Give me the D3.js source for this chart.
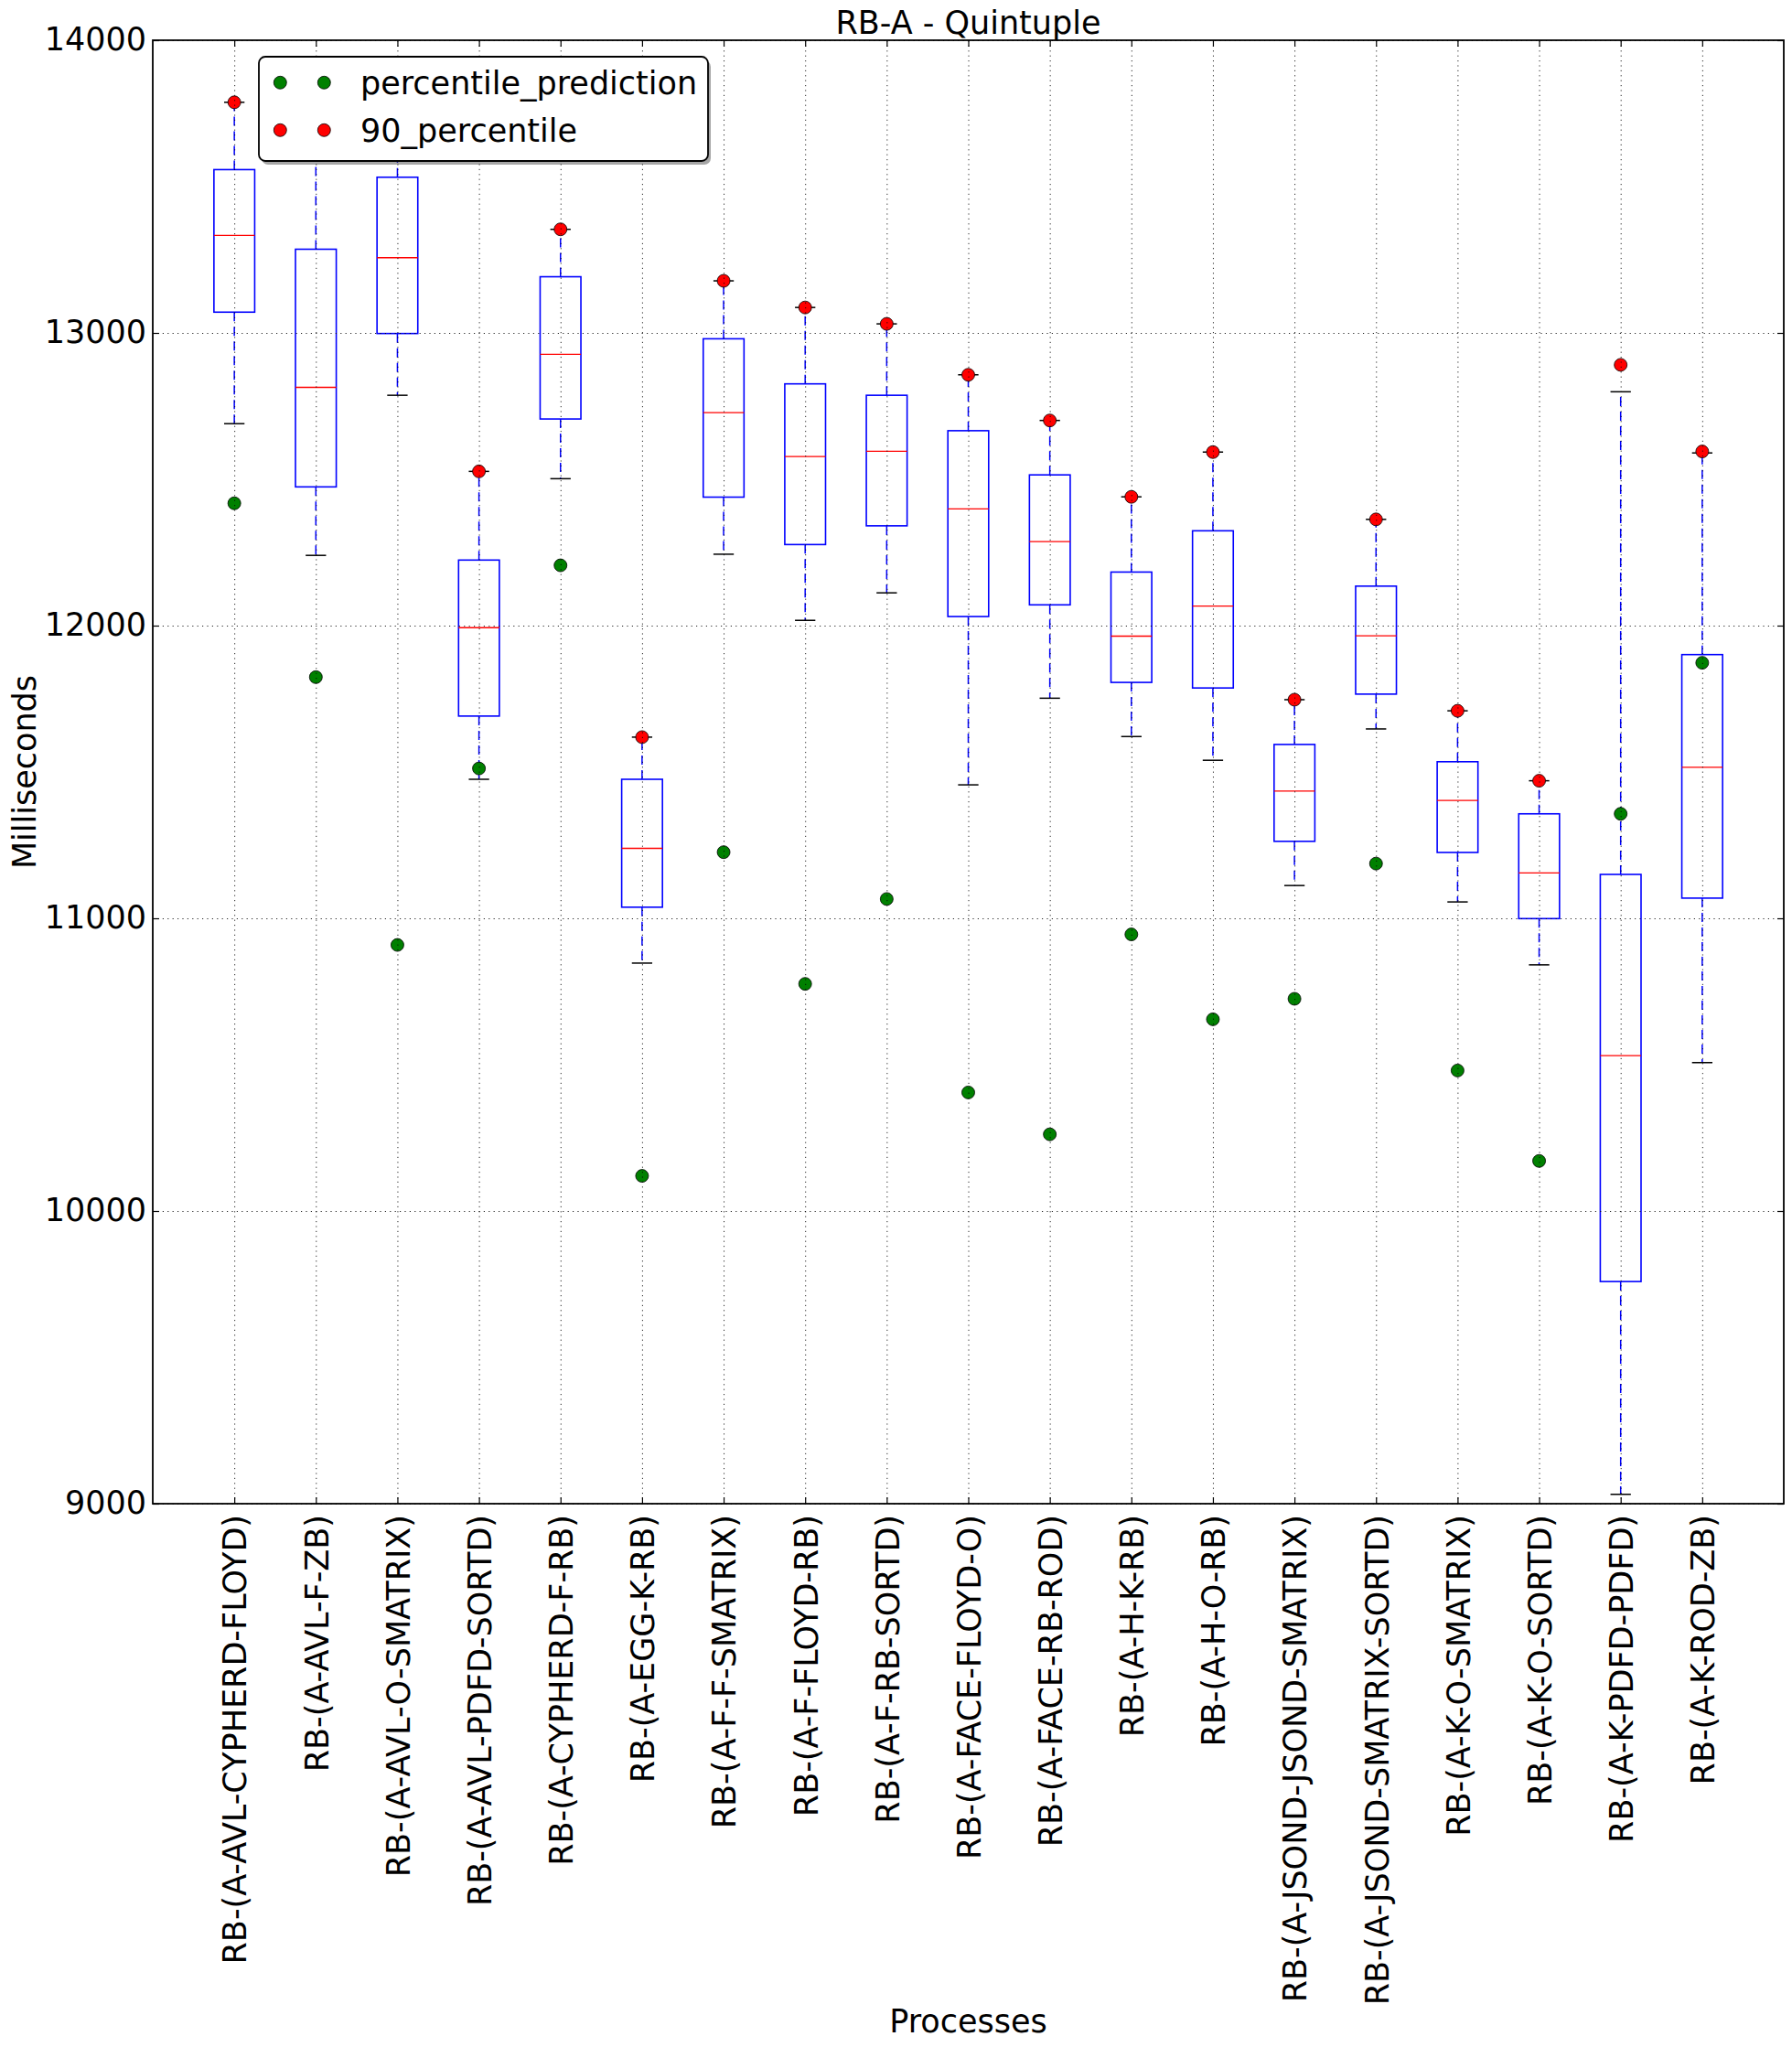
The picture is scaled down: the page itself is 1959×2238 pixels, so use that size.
<!DOCTYPE html>
<html>
<head>
<meta charset="utf-8">
<script src="https://cdn.jsdelivr.net/npm/d3@7/dist/d3.min.js"></script>
<style>
  html, body { margin: 0; padding: 0; background: #fff; }
  svg { display: block; }
  text { font-family: "DejaVu Sans", sans-serif; fill: #000; }
</style>
</head>
<body>
<script>
const categories = [
  "RB-(A-AVL-CYPHERD-FLOYD)", "RB-(A-AVL-F-ZB)", "RB-(A-AVL-O-SMATRIX)",
  "RB-(A-AVL-PDFD-SORTD)", "RB-(A-CYPHERD-F-RB)", "RB-(A-EGG-K-RB)",
  "RB-(A-F-F-SMATRIX)", "RB-(A-F-FLOYD-RB)", "RB-(A-F-RB-SORTD)",
  "RB-(A-FACE-FLOYD-O)", "RB-(A-FACE-RB-ROD)", "RB-(A-H-K-RB)",
  "RB-(A-H-O-RB)", "RB-(A-JSOND-JSOND-SMATRIX)", "RB-(A-JSOND-SMATRIX-SORTD)",
  "RB-(A-K-O-SMATRIX)", "RB-(A-K-O-SORTD)", "RB-(A-K-PDFD-PDFD)", "RB-(A-K-ROD-ZB)"
];
const whiskerLow  = [12690, 12240, 12787, 11475, 12502, 10847, 12244, 12018, 12112, 11456, 11752, 11621, 11540, 11112, 11647, 11056, 10841, 9032, 10507];
const q1          = [13071, 12474, 12998, 11691, 12706, 11038, 12439, 12277, 12341, 12031, 12071, 11806, 11787, 11263, 11766, 11225, 10999, 9759, 11069];
const medians     = [13333, 12814, 13257, 11993, 12927, 11239, 12728, 12578, 12596, 12399, 12287, 11964, 12067, 11435, 11965, 11403, 11155, 10531, 11516];
const q3          = [13558, 13286, 13532, 12224, 13192, 11475, 12980, 12826, 12787, 12666, 12515, 12183, 12324, 11594, 12135, 11535, 11357, 11150, 11901];
const whiskerHigh = [13788, 13800, 13800, 12527, 13354, 11619, 13178, 13087, 13031, 12857, 12701, 12440, 12593, 11747, 12363, 11709, 11470, 12799, 12590];
const percentile90 = [13788, 13800, 13800, 12527, 13354, 11619, 13178, 13087, 13031, 12857, 12701, 12440, 12593, 11747, 12363, 11709, 11470, 12891, 12595];
const prediction  = [12418, 11824, 10909, 11512, 12206, 10120, 11226, 10776, 11066, 10405, 10262, 10945, 10655, 10725, 11187, 10480, 10171, 11357, 11873];
const yTicks = [9000, 10000, 11000, 12000, 13000, 14000];
const legendLabels = ["percentile_prediction", "90_percentile"];
const legendColors = ["#008000", "#ff0000"];

const W = 1959, H = 2238;
const L = 167, R = 1950, T = 44, B = 1644;
const FS = 35;

const svg = d3.select("body").append("svg").attr("width", W).attr("height", H);
svg.append("rect").attr("width", W).attr("height", H).attr("fill", "#fff");

const x = d3.scaleLinear().domain([0, categories.length + 1]).range([L, R]);
const y = d3.scaleLinear().domain([9000, 14000]).range([B, T]);
const positions = categories.map((c, i) => i + 1);

const data = categories.map((c, i) => ({
  pos: i + 1, lo: whiskerLow[i], q1: q1[i], med: medians[i], q3: q3[i], hi: whiskerHigh[i],
  p90: percentile90[i], pred: prediction[i]
}));

const boxHalf = (x(1.25) - x(0.75)) / 2;
const capHalf = (x(1.125) - x(0.875)) / 2;

const plot = svg.append("g");
// whiskers
plot.selectAll(".wl").data(data).enter().append("line")
  .attr("x1", d => x(d.pos)).attr("x2", d => x(d.pos))
  .attr("y1", d => y(d.q1)).attr("y2", d => y(d.lo))
  .attr("stroke", "#0000ff").attr("stroke-width", 1.5).attr("stroke-dasharray", "10,6");
plot.selectAll(".wh").data(data).enter().append("line")
  .attr("x1", d => x(d.pos)).attr("x2", d => x(d.pos))
  .attr("y1", d => y(d.q3)).attr("y2", d => y(d.hi))
  .attr("stroke", "#0000ff").attr("stroke-width", 1.5).attr("stroke-dasharray", "10,6");
// caps
plot.selectAll(".capl").data(data).enter().append("line")
  .attr("x1", d => x(d.pos) - capHalf).attr("x2", d => x(d.pos) + capHalf)
  .attr("y1", d => y(d.lo)).attr("y2", d => y(d.lo))
  .attr("stroke", "#000").attr("stroke-width", 1.5);
plot.selectAll(".caph").data(data).enter().append("line")
  .attr("x1", d => x(d.pos) - capHalf).attr("x2", d => x(d.pos) + capHalf)
  .attr("y1", d => y(d.hi)).attr("y2", d => y(d.hi))
  .attr("stroke", "#000").attr("stroke-width", 1.5);
// boxes
plot.selectAll(".box").data(data).enter().append("rect")
  .attr("x", d => x(d.pos) - boxHalf).attr("width", boxHalf * 2)
  .attr("y", d => y(d.q3)).attr("height", d => y(d.q1) - y(d.q3))
  .attr("fill", "none").attr("stroke", "#0000ff").attr("stroke-width", 1.6);
// medians
plot.selectAll(".med").data(data).enter().append("line")
  .attr("x1", d => x(d.pos) - boxHalf).attr("x2", d => x(d.pos) + boxHalf)
  .attr("y1", d => y(d.med)).attr("y2", d => y(d.med))
  .attr("stroke", "#ff0000").attr("stroke-width", 1.3);
// points
plot.selectAll(".pred").data(data).enter().append("circle")
  .attr("cx", d => x(d.pos)).attr("cy", d => y(d.pred)).attr("r", 7)
  .attr("fill", legendColors[0]).attr("stroke", "#000").attr("stroke-width", 0.8);
plot.selectAll(".p90").data(data).enter().append("circle")
  .attr("cx", d => x(d.pos)).attr("cy", d => y(d.p90)).attr("r", 7)
  .attr("fill", legendColors[1]).attr("stroke", "#000").attr("stroke-width", 0.8);

// grid (on top, classic style)
const gridY = svg.append("g").attr("transform", `translate(${L},0)`)
  .call(d3.axisLeft(y).tickValues(yTicks).tickSize(-(R - L)).tickFormat(""));
const gridX = svg.append("g").attr("transform", `translate(0,${B})`)
  .call(d3.axisBottom(x).tickValues(positions).tickSize(-(B - T)).tickFormat(""));
[gridY, gridX].forEach(g => {
  g.select(".domain").remove();
  g.selectAll("line").attr("stroke", "#000").attr("stroke-width", 1)
    .attr("stroke-dasharray", "1.2,4.2").attr("stroke-opacity", 0.85);
});

// axes with inward ticks
const axL = svg.append("g").attr("transform", `translate(${L},0)`)
  .call(d3.axisLeft(y).tickValues(yTicks).tickSize(-7).tickPadding(7).tickFormat(d3.format("d")));
const axR = svg.append("g").attr("transform", `translate(${R},0)`)
  .call(d3.axisRight(y).tickValues(yTicks).tickSize(-7).tickFormat(""));
const axT = svg.append("g").attr("transform", `translate(0,${T})`)
  .call(d3.axisTop(x).tickValues(positions).tickSize(-7).tickFormat(""));
const axB = svg.append("g").attr("transform", `translate(0,${B})`)
  .call(d3.axisBottom(x).tickValues(positions).tickSize(-7).tickFormat(""));
[axL, axR, axT, axB].forEach(g => {
  g.select(".domain").remove();
  g.selectAll(".tick line").attr("stroke", "#000").attr("stroke-width", 1.2);
});
axL.selectAll("text").attr("font-size", FS).attr("font-family", "DejaVu Sans")
  .attr("dy", null).attr("y", 10).attr("fill", "#000");

// x tick labels rotated
axB.selectAll(".tick").append("text")
  .attr("transform", `translate(12.8, 12) rotate(-90)`)
  .attr("text-anchor", "end")
  .attr("font-size", FS).attr("fill", "#000")
  .text(d => categories[d - 1]);

// spines
svg.append("rect").attr("x", L).attr("y", T).attr("width", R - L).attr("height", B - T)
  .attr("fill", "none").attr("stroke", "#000").attr("stroke-width", 1.8);

// title & axis labels
svg.append("text").attr("x", (L + R) / 2).attr("y", 37).attr("text-anchor", "middle")
  .attr("font-size", FS).text("RB-A - Quintuple");
svg.append("text").attr("x", (L + R) / 2).attr("y", 2222).attr("text-anchor", "middle")
  .attr("font-size", FS).text("Processes");
svg.append("text").attr("transform", `translate(39,${(T + B) / 2}) rotate(-90)`)
  .attr("text-anchor", "middle").attr("font-size", FS).text("Milliseconds");

// legend
const lg = svg.append("g");
const lx = 283, ly = 62, lw = 491, lh = 114;
lg.append("rect").attr("x", lx + 3).attr("y", ly + 4).attr("width", lw).attr("height", lh)
  .attr("rx", 7).attr("fill", "#000").attr("fill-opacity", 0.35);
lg.append("rect").attr("x", lx).attr("y", ly).attr("width", lw).attr("height", lh)
  .attr("rx", 7).attr("fill", "#fff").attr("stroke", "#000").attr("stroke-width", 1.8);
const rowY = [90.3, 142.3];
legendLabels.forEach((lab, i) => {
  [306.3, 354.3].forEach(mx => {
    lg.append("circle").attr("cx", mx).attr("cy", rowY[i]).attr("r", 7)
      .attr("fill", legendColors[i]).attr("stroke", "#000").attr("stroke-width", 0.8);
  });
  lg.append("text").attr("x", 394).attr("y", rowY[i] + 12.5).attr("font-size", FS).text(lab);
});
</script>
</body>
</html>
